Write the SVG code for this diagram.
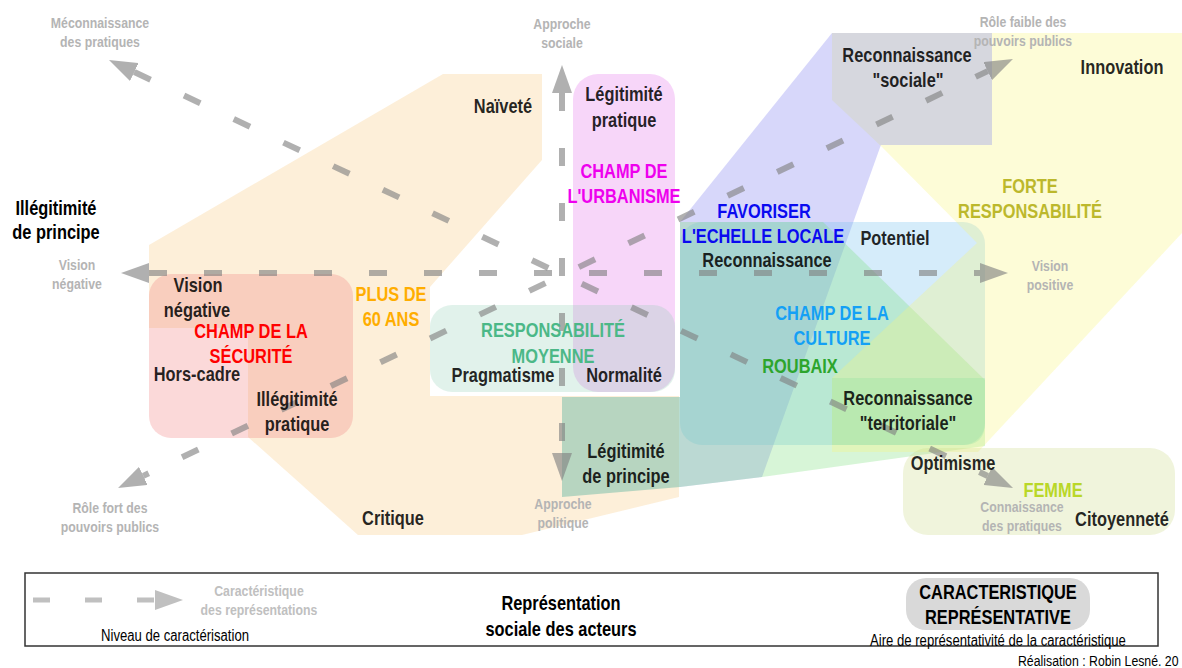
<svg xmlns="http://www.w3.org/2000/svg" width="1182" height="668" viewBox="0 0 1182 668">
<style>
text{font-family:"Liberation Sans Narrow","Liberation Sans",Arial,sans-serif;text-anchor:middle}
.lb{font-weight:bold;font-size:20px;fill:#000;fill-opacity:.86}
.blk{font-weight:bold;font-size:20px;fill:#000}
.ax{font-weight:bold;font-size:15px;fill:#b4b4b4}
.dash{fill:none;stroke:#808080;stroke-opacity:.62;stroke-width:6;stroke-dasharray:18 37}
.area{stroke:none}
.mag{fill:#ee00ee;fill-opacity:1}
.red{fill:#ff0000;fill-opacity:1}
.ora{fill:#ffad00;fill-opacity:1}
.tea{fill:#4bb887;fill-opacity:1}
.blu{fill:#0a0af0;fill-opacity:1}
.cya{fill:#14a0f5;fill-opacity:1}
.grn{fill:#2da52d;fill-opacity:1}
.oli{fill:#bcb82c;fill-opacity:1}
.lim{fill:#b9d728;fill-opacity:1}
</style>
<defs>
<marker id="ah" viewBox="0 0 28 20" refX="0" refY="10" markerWidth="28" markerHeight="20" markerUnits="userSpaceOnUse" orient="auto-start-reverse">
<path d="M0,0 L28,10 L0,20 Z" fill="#808080" fill-opacity=".62"/>
</marker>
<marker id="ahl" viewBox="0 0 28 20" refX="0" refY="10" markerWidth="28" markerHeight="20" markerUnits="userSpaceOnUse" orient="auto">
<path d="M0,0 L28,10 L0,20 Z" fill="#c0c0c0"/>
</marker>
</defs>
<rect width="1182" height="668" fill="#fff"/>

<g id="areas">
<g id="node-plus60"><polygon class="area" points="149,245 443,74 542,74 542,160 430,287 430,396 679,396 679,497 522,535 358,535 248,437 248,328 149,328" fill="#fad7a0" fill-opacity=".4"/></g>
<g id="node-securite"><rect class="area" x="149" y="274" width="204" height="164" rx="22" fill="#f28080" fill-opacity=".3"/></g>
<g id="node-urbanisme"><rect class="area" x="573" y="74" width="102" height="318" rx="25" fill="#e476eb" fill-opacity=".3"/></g>
<g id="node-resp-moyenne"><rect class="area" x="430" y="305" width="245" height="87" rx="22" fill="#87cbaf" fill-opacity=".25"/></g>
<g id="node-legit-principe"><polygon class="area" points="562,397 680,397 680,487 562,497" fill="#71bba7" fill-opacity=".5"/></g>
<g id="node-echelle-locale"><polygon class="area" points="832,33 921,33 762,477 680,487 680,222" fill="#7a7aee" fill-opacity=".3"/></g>
<g id="node-culture"><rect class="area" x="680" y="222" width="305" height="223" rx="22" fill="#73c0ee" fill-opacity=".3"/></g>
<g id="node-roubaix"><polygon class="area" points="680,222 823,222 985,380 985,446 762,477 680,487" fill="#7ade7a" fill-opacity=".3"/></g>
<g id="node-forte-resp"><polygon class="area" points="832,33 1182,33 1182,233 978,452 832,452 832,378 977,243 880,145 832,97" fill="#f8f57a" fill-opacity=".3"/></g>
<g id="node-territoriale"><path class="area" d="M832,378 H985 V423 Q985,445 963,445 H832 Z" fill="#78e096" fill-opacity=".22"/></g>
<g id="node-sociale"><polygon class="area" points="832,33 992,33 992,145 880,145 832,100" fill="#d6d7de"/></g>
<g id="node-femme"><rect class="area" x="903" y="448" width="272" height="87" rx="25" fill="#cdda8a" fill-opacity=".3"/></g>
</g>

<g id="connectors">
<path class="dash" d="M149,273 H980" marker-start="url(#ah)" marker-end="url(#ah)"/>
<path class="dash" d="M562,93 V453" marker-start="url(#ah)" marker-end="url(#ah)"/>
<path class="dash" d="M134.3,72 L987.7,476" marker-start="url(#ah)" marker-end="url(#ah)"/>
<path class="dash" d="M143.3,475.9 L987.7,71.1" stroke-dashoffset="12" marker-start="url(#ah)" marker-end="url(#ah)"/>
</g>

<g id="labels" transform="scale(0.82 1)">
<g id="axis-labels">
<text class="ax" x="121.95" y="28">Méconnaissance</text><text class="ax" x="121.95" y="47">des pratiques</text>
<text class="ax" x="685.37" y="29">Approche</text><text class="ax" x="685.37" y="48">sociale</text>
<text class="ax" x="1247.56" y="27">Rôle faible des</text><text class="ax" x="1247.56" y="46">pouvoirs publics</text>
<text class="ax" x="93.90" y="270">Vision</text><text class="ax" x="93.90" y="289">négative</text>
<text class="ax" x="1280.49" y="271">Vision</text><text class="ax" x="1280.49" y="290">positive</text>
<text class="ax" x="134.15" y="513">Rôle fort des</text><text class="ax" x="134.15" y="532">pouvoirs publics</text>
<text class="ax" x="686.59" y="509">Approche</text><text class="ax" x="686.59" y="528">politique</text>
<text class="ax" x="1246.34" y="512">Connaissance</text><text class="ax" x="1246.34" y="531">des pratiques</text>
</g>
<g id="label-illegitimite-principe"><text class="blk" x="68.29" y="215">Illégitimité</text><text class="blk" x="68.29" y="239">de principe</text></g>
<g id="label-plus60"><text class="lb" x="613.41" y="113">Naïveté</text><text class="lb ora" x="476.83" y="301">PLUS DE</text><text class="lb ora" x="476.83" y="326">60 ANS</text><text class="lb" x="479.27" y="525">Critique</text></g>
<g id="label-securite"><text class="lb" x="241.46" y="292">Vision</text><text class="lb" x="240.24" y="317">négative</text><text class="lb red" x="306.10" y="338">CHAMP DE LA</text><text class="lb red" x="306.10" y="363">SÉCURITÉ</text><text class="lb" x="240.24" y="381">Hors-cadre</text><text class="lb" x="362.20" y="406">Illégitimité</text><text class="lb" x="362.20" y="431">pratique</text></g>
<g id="label-urbanisme"><text class="lb" x="760.98" y="101">Légitimité</text><text class="lb" x="760.98" y="127">pratique</text><text class="lb mag" x="760.98" y="178">CHAMP DE</text><text class="lb mag" x="760.98" y="203">L'URBANISME</text><text class="lb" x="760.98" y="382">Normalité</text></g>
<g id="label-resp-moyenne"><text class="lb tea" x="674.39" y="337">RESPONSABILITÉ</text><text class="lb tea" x="674.39" y="363">MOYENNE</text><text class="lb" x="613.41" y="382">Pragmatisme</text></g>
<g id="label-legit-principe"><text class="lb" x="763.41" y="458">Légitimité</text><text class="lb" x="763.41" y="483">de principe</text></g>
<g id="label-echelle-locale"><text class="lb blu" x="931.71" y="218">FAVORISER</text><text class="lb blu" x="930.49" y="243">L'ECHELLE LOCALE</text><text class="lb" x="935.37" y="267">Reconnaissance</text></g>
<g id="label-culture"><text class="lb" x="1091.46" y="245">Potentiel</text><text class="lb cya" x="1014.63" y="320">CHAMP DE LA</text><text class="lb cya" x="1014.63" y="345">CULTURE</text></g>
<g id="label-roubaix"><text class="lb grn" x="975.61" y="373">ROUBAIX</text></g>
<g id="label-territoriale"><text class="lb" x="1107.32" y="405">Reconnaissance</text><text class="lb" x="1107.32" y="430">"territoriale"</text></g>
<g id="label-forte-resp"><text class="lb oli" x="1256.10" y="193">FORTE</text><text class="lb oli" x="1256.10" y="218">RESPONSABILITÉ</text><text class="lb" x="1368.29" y="74">Innovation</text></g>
<g id="label-sociale"><text class="lb" x="1106.10" y="62">Reconnaissance</text><text class="lb" x="1107.32" y="87">"sociale"</text></g>
<g id="label-femme"><text class="lb" x="1162.20" y="470">Optimisme</text><text class="lb lim" x="1284.15" y="497">FEMME</text><text class="lb" x="1368.29" y="526">Citoyenneté</text></g>
</g>

<g id="legend">
<rect x="25" y="573" width="1133" height="73" fill="#fff" stroke="#333" stroke-width="1.5"/>
<path d="M33,600 H155" fill="none" stroke="#c0c0c0" stroke-width="5" stroke-dasharray="17 35" marker-end="url(#ahl)"/>
<rect x="906" y="578" width="184" height="52" rx="20" fill="#d9d9d9"/>
<g transform="scale(0.82 1)">
<text x="315.85" y="596" style="font-weight:bold;font-size:15px;fill:#c0c0c0">Caractéristique</text>
<text x="315.85" y="615" style="font-weight:bold;font-size:15px;fill:#c0c0c0">des représentations</text>
<text x="213.41" y="641" style="font-size:16px;fill:#000">Niveau de caractérisation</text>
<text x="684.15" y="610" style="font-weight:bold;font-size:20px;fill:#000">Représentation</text>
<text x="684.15" y="636" style="font-weight:bold;font-size:20px;fill:#000">sociale des acteurs</text>
<text x="1217.07" y="599" style="font-weight:bold;font-size:20px;fill:#000">CARACTERISTIQUE</text>
<text x="1217.07" y="624" style="font-weight:bold;font-size:20px;fill:#000">REPRÉSENTATIVE</text>
<text x="1217.07" y="646" style="font-size:16px;fill:#000">Aire de représentativité de la caractéristique</text>
<text x="1241.46" y="666" style="font-size:15px;fill:#000;text-anchor:start">Réalisation : Robin Lesné. 20</text>
</g>
</g>
</svg>
